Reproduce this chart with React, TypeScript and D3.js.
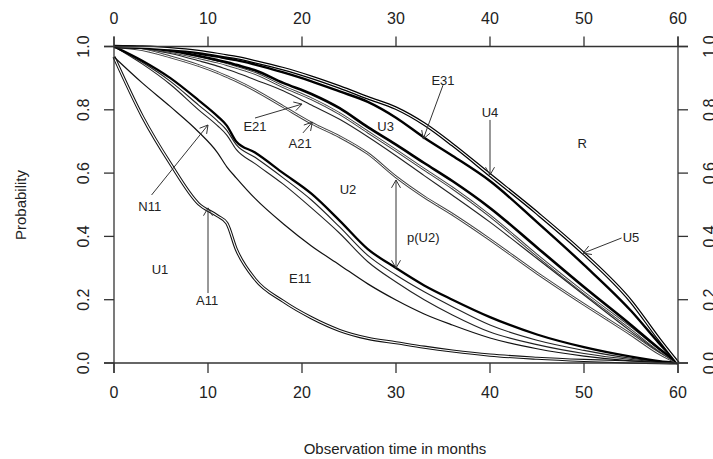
import React from "react";
import * as d3 from "d3";

const W = 713;
const H = 459;
const MARGIN = { top: 46.5, right: 35, bottom: 96, left: 114 };

// observation time grid (months) shared by every curve
const months = [0, 3, 6, 9, 11, 12, 13, 15, 18, 21, 24, 27, 30, 33, 36, 40, 45, 50, 55, 58, 60];

// cumulative state probabilities
const bandU1 = [0.967, 0.78, 0.63, 0.503, 0.465, 0.442, 0.36, 0.265, 0.195, 0.143, 0.103, 0.078, 0.064, 0.05, 0.038, 0.025, 0.015, 0.008, 0.003, 0.001, 0];
const lineE11 = [0.967, 0.885, 0.81, 0.73, 0.665, 0.62, 0.585, 0.52, 0.44, 0.37, 0.31, 0.25, 0.199, 0.155, 0.12, 0.079, 0.045, 0.022, 0.007, 0.002, 0];
const lineN11 = [1, 0.955, 0.9, 0.83, 0.78, 0.75, 0.7, 0.665, 0.6, 0.535, 0.45, 0.36, 0.3, 0.245, 0.2, 0.145, 0.09, 0.05, 0.02, 0.006, 0];
const lineN11b = [1, 0.95, 0.89, 0.815, 0.765, 0.735, 0.69, 0.65, 0.585, 0.515, 0.43, 0.34, 0.278, 0.225, 0.178, 0.12, 0.072, 0.04, 0.015, 0.005, 0];
const lineN11c = [1, 0.945, 0.88, 0.8, 0.75, 0.72, 0.675, 0.63, 0.565, 0.49, 0.41, 0.32, 0.256, 0.2, 0.152, 0.098, 0.058, 0.03, 0.011, 0.003, 0];
const bandU2 = [1, 0.99, 0.967, 0.94, 0.918, 0.905, 0.892, 0.862, 0.81, 0.758, 0.715, 0.662, 0.588, 0.525, 0.47, 0.39, 0.284, 0.185, 0.09, 0.03, 0];
const lineE21 = [1, 0.994, 0.978, 0.955, 0.938, 0.928, 0.918, 0.895, 0.86, 0.815, 0.77, 0.715, 0.655, 0.592, 0.53, 0.445, 0.33, 0.215, 0.1, 0.035, 0];
const lineU3 = [1, 0.997, 0.987, 0.97, 0.957, 0.95, 0.942, 0.925, 0.885, 0.85, 0.805, 0.745, 0.69, 0.632, 0.575, 0.49, 0.365, 0.24, 0.12, 0.045, 0];
const bandU3 = [1, 0.996, 0.984, 0.965, 0.951, 0.943, 0.934, 0.915, 0.873, 0.835, 0.788, 0.73, 0.672, 0.612, 0.553, 0.465, 0.34, 0.222, 0.11, 0.04, 0];
const bandU4 = [1, 0.998, 0.993, 0.984, 0.975, 0.97, 0.965, 0.952, 0.93, 0.903, 0.872, 0.838, 0.805, 0.755, 0.69, 0.594, 0.474, 0.345, 0.195, 0.075, 0];
const lineE31 = [1, 0.997, 0.99, 0.978, 0.968, 0.962, 0.957, 0.943, 0.918, 0.89, 0.858, 0.825, 0.775, 0.712, 0.655, 0.575, 0.445, 0.31, 0.165, 0.062, 0];

const xTicks = [0, 10, 20, 30, 40, 50, 60];
const yTicks = [0, 0.2, 0.4, 0.6, 0.8, 1.0];

const labelText = ["E31", "U4", "R", "E21", "A21", "U3", "U2", "N11", "p(U2)", "U5", "U1", "E11", "A11"];
const labelX = [35, 40, 49.8, 15, 19.8, 28.9, 24.9, 3.8, 32.9, 55, 4.9, 19.8, 9.9];
const labelY = [0.894, 0.79, 0.695, 0.746, 0.695, 0.746, 0.547, 0.496, 0.395, 0.395, 0.294, 0.268, 0.196];

// annotation arrows: [x0, y0, x1, y1, head at both ends]
const arrows: [number, number, number, number, boolean][] = [
  [15, 0.774, 20, 0.818, false],
  [20.1, 0.727, 21.1, 0.761, false],
  [4, 0.531, 10, 0.752, false],
  [10, 0.221, 10, 0.49, false],
  [35, 0.878, 32.9, 0.708, false],
  [40, 0.768, 40, 0.594, false],
  [30, 0.3, 30, 0.578, true],
  [54, 0.395, 49.9, 0.347, false],
];

const FONT = "'Liberation Sans', Arial, sans-serif";

export default function App() {
  const x = d3.scaleLinear().domain([0, 60]).range([MARGIN.left, W - MARGIN.right]);
  const y = d3.scaleLinear().domain([0, 1]).range([H - MARGIN.bottom, MARGIN.top]);

  const line = (vals: number[]) =>
    d3
      .line<number>()
      .x((_, i) => x(months[i]))
      .y((d) => y(d))
      .curve(d3.curveMonotoneX)(vals) || "";

  const x0 = x(0), x1 = x(60), y0 = y(0), y1 = y(1);
  const tick = 10;

  const head = (ax: number, ay: number, bx: number, by: number) => {
    // open arrow head at (bx,by)
    const ang = Math.atan2(by - ay, bx - ax);
    const len = 9;
    const a1 = ang + Math.PI - Math.PI / 6;
    const a2 = ang + Math.PI + Math.PI / 6;
    return `M${bx + len * Math.cos(a1)},${by + len * Math.sin(a1)}L${bx},${by}L${bx + len * Math.cos(a2)},${by + len * Math.sin(a2)}`;
  };

  return (
    <svg width={W} height={H} style={{ position: "absolute", left: 0, top: 0, background: "#fff" }} fontFamily={FONT}>
      {/* curves */}
      <g fill="none" strokeLinejoin="round">
        <path d={line(bandU1)} stroke="#111" strokeWidth={3.2} />
        <path d={line(bandU1)} stroke="#fff" strokeWidth={1.1} />
        <path d={line(lineE11)} stroke="#111" strokeWidth={1.2} />
        <path d={line(lineN11c)} stroke="#222" strokeWidth={1.1} />
        <path d={line(lineN11b)} stroke="#222" strokeWidth={1.1} />
        <path d={line(lineN11)} stroke="#000" strokeWidth={2.3} />
        <path d={line(bandU2)} stroke="#444" strokeWidth={2.8} />
        <path d={line(bandU2)} stroke="#fff" strokeWidth={1} />
        <path d={line(lineE21)} stroke="#222" strokeWidth={1.1} />
        <path d={line(bandU3)} stroke="#444" strokeWidth={2.8} />
        <path d={line(bandU3)} stroke="#fff" strokeWidth={1} />
        <path d={line(lineU3)} stroke="#000" strokeWidth={2.6} />
        <path d={line(lineE31)} stroke="#000" strokeWidth={2.4} />
        <path d={line(bandU4)} stroke="#000" strokeWidth={3.6} />
        <path d={line(bandU4)} stroke="#fff" strokeWidth={1.1} />
      </g>

      {/* axes on all four sides */}
      <g stroke="#333" strokeWidth={1.3}>
        <line x1={x0 - tick} x2={x1 + tick} y1={y1} y2={y1} />
        <line x1={x0 - tick} x2={x1 + tick} y1={y0} y2={y0} />
        <line x1={x0} x2={x0} y1={y1 - tick} y2={y0 + tick} />
        <line x1={x1} x2={x1} y1={y1 - tick} y2={y0 + tick} />
        {xTicks.map((t) => (
          <g key={"xt" + t}>
            <line x1={x(t)} x2={x(t)} y1={y0} y2={y0 + tick} />
            <line x1={x(t)} x2={x(t)} y1={y1} y2={y1 - tick} />
          </g>
        ))}
        {yTicks.map((t) => (
          <g key={"yt" + t}>
            <line x1={x0} x2={x0 - tick} y1={y(t)} y2={y(t)} />
            <line x1={x1} x2={x1 + tick} y1={y(t)} y2={y(t)} />
          </g>
        ))}
      </g>

      <g fontSize={16} fill="#222" textAnchor="middle" dominantBaseline="central">
        {xTicks.map((t) => (
          <g key={"xl" + t}>
            <text x={x(t)} y={392}>{t}</text>
            <text x={x(t)} y={18}>{t}</text>
          </g>
        ))}
        {yTicks.map((t) => (
          <g key={"yl" + t}>
            <text transform={`translate(83,${y(t)}) rotate(-90)`}>{t.toFixed(1)}</text>
            <text transform={`translate(709,${y(t)}) rotate(-90)`}>{t.toFixed(1)}</text>
          </g>
        ))}
      </g>

      <g fontSize={15} fill="#222" textAnchor="middle" dominantBaseline="central">
        <text x={395} y={448}>Observation time in months</text>
        <text transform="translate(20,205) rotate(-90)">Probability</text>
      </g>

      {/* arrows */}
      <g stroke="#333" strokeWidth={1} fill="none">
        {arrows.map(([ax, ay, bx, by, both], i) => {
          const p0 = [x(ax), y(ay)];
          const p1 = [x(bx), y(by)];
          return (
            <g key={"ar" + i}>
              <line x1={p0[0]} y1={p0[1]} x2={p1[0]} y2={p1[1]} />
              <path d={head(p0[0], p0[1], p1[0], p1[1])} />
              {both && <path d={head(p1[0], p1[1], p0[0], p0[1])} />}
            </g>
          );
        })}
      </g>

      <g fontSize={13} fill="#222" textAnchor="middle" dominantBaseline="central">
        {labelText.map((t, i) => (
          <text key={t} x={x(labelX[i])} y={y(labelY[i])}>{t}</text>
        ))}
      </g>
    </svg>
  );
}
